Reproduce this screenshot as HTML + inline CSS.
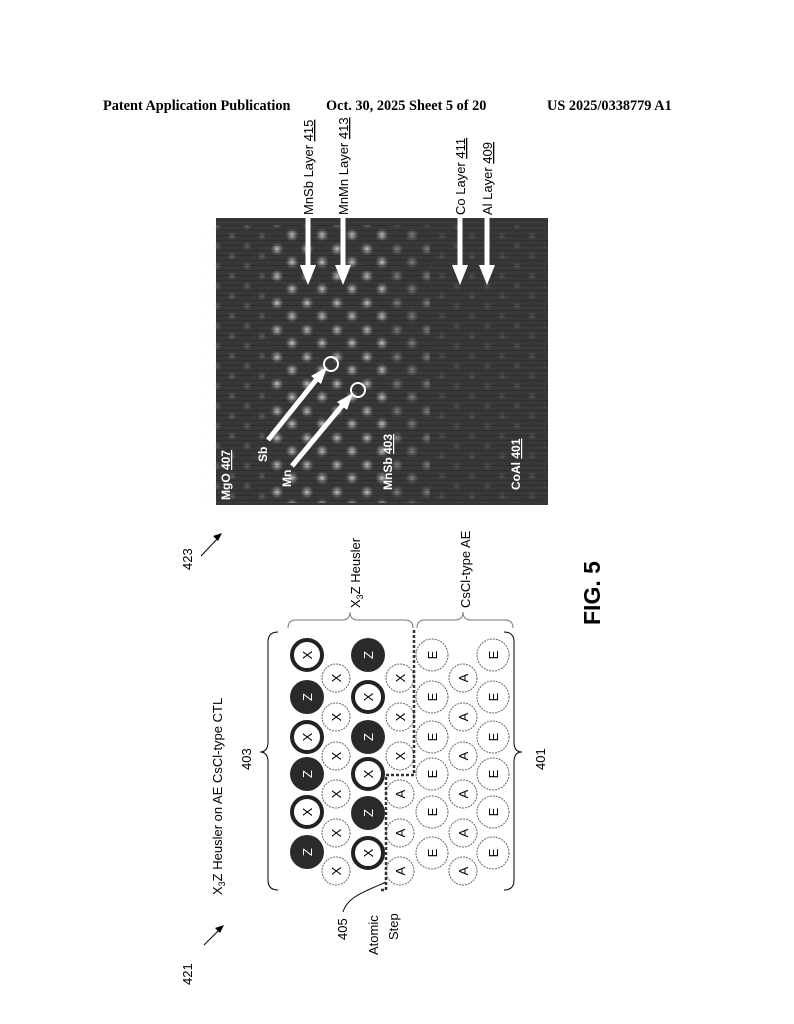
<!DOCTYPE html>
<html><head><meta charset="utf-8"><style>
html,body{margin:0;padding:0;background:#fff}
svg{display:block}
</style></head><body>
<svg width="794" height="1024" viewBox="0 0 794 1024" xmlns="http://www.w3.org/2000/svg" font-family="Liberation Sans, sans-serif">
<defs>
<radialGradient id="g"><stop offset="0" stop-color="#fff" stop-opacity="0.95"/><stop offset="0.45" stop-color="#ccc" stop-opacity="0.55"/><stop offset="1" stop-color="#777" stop-opacity="0"/></radialGradient>
<pattern id="p1" x="0" y="0" width="30" height="27" patternUnits="userSpaceOnUse">
<circle cx="7" cy="6" r="7" fill="url(#g)"/><circle cx="22" cy="19" r="7" fill="url(#g)"/>
</pattern>
<pattern id="p2" x="0" y="0" width="30" height="20" patternUnits="userSpaceOnUse">
<circle cx="7" cy="6" r="5" fill="url(#g)"/><circle cx="22" cy="16" r="5" fill="url(#g)"/>
</pattern>
<pattern id="st" x="0" y="0" width="4" height="5" patternUnits="userSpaceOnUse">
<rect x="0" y="0" width="4" height="1" fill="#000" opacity="0.18"/>
</pattern>
</defs>
<text x="103" y="110" font-family="Liberation Serif, serif" font-weight="bold" font-size="14.3">Patent Application Publication</text>
<text x="326" y="110" font-family="Liberation Serif, serif" font-weight="bold" font-size="14.3">Oct. 30, 2025  Sheet 5 of 20</text>
<text x="547" y="110" font-family="Liberation Serif, serif" font-weight="bold" font-size="14.3">US 2025/0338779 A1</text>

<!-- micrograph -->
<rect x="216" y="218" width="332" height="287" fill="#383838"/>
<rect x="205" y="225" width="60" height="278" fill="url(#p2)" opacity="0.25"/>
<rect x="268" y="225" width="122" height="278" fill="url(#p1)" opacity="0.75"/>
<rect x="390" y="225" width="40" height="278" fill="url(#p1)" opacity="0.4"/>
<rect x="430" y="225" width="115" height="278" fill="url(#p2)" opacity="0.15"/>
<rect x="216" y="218" width="332" height="287" fill="url(#st)"/>
<g fill="#fff" font-weight="bold" font-size="12">
<text transform="translate(230,500) rotate(-90)">MgO <tspan text-decoration="underline">407</tspan></text>
<text transform="translate(267,462) rotate(-90)">Sb</text>
<text transform="translate(291,487) rotate(-90)">Mn</text>
<text transform="translate(392,490) rotate(-90)">MnSb <tspan text-decoration="underline">403</tspan></text>
<text transform="translate(520,490) rotate(-90)">CoAl <tspan text-decoration="underline">401</tspan></text>
</g>
<g stroke="#fff" stroke-width="5"><line x1="268" y1="440" x2="320" y2="375"/><line x1="292" y1="466" x2="346" y2="401"/></g>
<polygon points="327,367 311,376 321,384" fill="#fff"/>
<polygon points="353,393 337,402 347,410" fill="#fff"/>
<circle cx="331" cy="364" r="7" fill="none" stroke="#fff" stroke-width="2"/>
<circle cx="358" cy="390" r="7" fill="none" stroke="#fff" stroke-width="2"/>
<g stroke="#fff" stroke-width="5">
<line x1="308" y1="218" x2="308" y2="268"/><line x1="343" y1="218" x2="343" y2="268"/>
<line x1="460" y1="218" x2="460" y2="268"/><line x1="487" y1="218" x2="487" y2="268"/></g>
<g fill="#fff"><polygon points="300,265 316,265 308,285"/><polygon points="335,265 351,265 343,285"/>
<polygon points="452,265 468,265 460,285"/><polygon points="479,265 495,265 487,285"/></g>
<g font-size="13" fill="#000">
<text transform="translate(313,215) rotate(-90)">MnSb Layer <tspan text-decoration="underline">415</tspan></text>
<text transform="translate(348,215) rotate(-90)">MnMn Layer <tspan text-decoration="underline">413</tspan></text>
<text transform="translate(465,215) rotate(-90)">Co Layer <tspan text-decoration="underline">411</tspan></text>
<text transform="translate(492,215) rotate(-90)">Al Layer <tspan text-decoration="underline">409</tspan></text>
</g>

<!-- reference numerals -->
<g font-size="13">
<text transform="translate(192,570) rotate(-90)">423</text>
<text transform="translate(192,985) rotate(-90)">421</text>
<text transform="translate(347,940) rotate(-90)">405</text>
<text transform="translate(378,955) rotate(-90)">Atomic</text>
<text transform="translate(398,940) rotate(-90)">Step</text>
<text transform="translate(251,770) rotate(-90)">403</text>
<text transform="translate(545,770) rotate(-90)">401</text>
<text transform="translate(222,895) rotate(-90)">X<tspan font-size="9" dy="3">3</tspan><tspan dy="-3">Z Heusler on AE CsCl-type CTL</tspan></text>
<text transform="translate(360,608) rotate(-90)">X<tspan font-size="9" dy="3">3</tspan><tspan dy="-3">Z Heusler</tspan></text>
<text transform="translate(470,608) rotate(-90)">CsCl-type AE</text>
</g>
<text transform="translate(600,625) rotate(-90)" font-size="23" font-weight="bold">FIG. 5</text>
<g stroke="#000" stroke-width="1" fill="none">
<line x1="201" y1="556" x2="220" y2="536"/><line x1="204" y1="945" x2="222" y2="927"/>
<path d="M343,912 C348,895 370,890 386,882"/>
<path d="M278,632 Q268,632 268,642 L268,742 Q268,752 260,752 Q268,752 268,762 L268,880 Q268,890 278,890"/>
<path d="M504,632 Q514,632 514,642 L514,742 Q514,752 522,752 Q514,752 514,762 L514,880 Q514,890 504,890"/>
<path d="M288,628 Q288,620 296,620 L342,620 Q350,620 350,612 Q350,620 358,620 L405,620 Q413,620 413,628" stroke="#777"/>
<path d="M417,628 Q417,620 425,620 L455,620 Q463,620 463,612 Q463,620 471,620 L505,620 Q513,620 513,628" stroke="#777"/>
</g>
<polygon points="222,533 213,536 218,541" fill="#000"/>
<polygon points="224,925 215,928 220,933" fill="#000"/>

<!-- atoms -->
<g font-size="13" text-anchor="middle" stroke-width="1">
<g fill="#fff" stroke="#666" stroke-dasharray="2,1">
<circle cx="432" cy="655" r="16"/><circle cx="432" cy="697" r="16"/><circle cx="432" cy="737" r="16"/><circle cx="432" cy="774" r="16"/><circle cx="432" cy="812" r="16"/><circle cx="432" cy="853" r="16"/>
<circle cx="493" cy="655" r="16"/><circle cx="493" cy="697" r="16"/><circle cx="493" cy="737" r="16"/><circle cx="493" cy="774" r="16"/><circle cx="493" cy="812" r="16"/><circle cx="493" cy="853" r="16"/>
<circle cx="463" cy="678" r="14"/><circle cx="463" cy="717" r="14"/><circle cx="463" cy="756" r="14"/><circle cx="463" cy="794" r="14"/><circle cx="463" cy="833" r="14"/><circle cx="463" cy="871" r="14"/>
<circle cx="336" cy="678" r="14"/><circle cx="336" cy="717" r="14"/><circle cx="336" cy="756" r="14"/><circle cx="336" cy="794" r="14"/><circle cx="336" cy="833" r="14"/><circle cx="336" cy="871" r="14"/>
<circle cx="400" cy="678" r="14"/><circle cx="400" cy="717" r="14"/><circle cx="400" cy="756" r="14"/><circle cx="400" cy="794" r="14"/><circle cx="400" cy="833" r="14"/><circle cx="400" cy="871" r="14"/>
</g>
<g fill="#fff" stroke="#222" stroke-width="4">
<circle cx="307" cy="655" r="15"/><circle cx="307" cy="737" r="15"/><circle cx="307" cy="812" r="15"/>
<circle cx="368" cy="697" r="15"/><circle cx="368" cy="774" r="15"/><circle cx="368" cy="853" r="15"/>
</g>
<g fill="#2a2a2a">
<circle cx="307" cy="697" r="17"/><circle cx="307" cy="774" r="17"/><circle cx="307" cy="852" r="17"/>
<circle cx="368" cy="655" r="17"/><circle cx="368" cy="737" r="17"/><circle cx="368" cy="813" r="17"/>
</g>
<g fill="#000">
<text transform="translate(312,655) rotate(-90)">X</text><text transform="translate(312,737) rotate(-90)">X</text><text transform="translate(312,812) rotate(-90)">X</text>
<text transform="translate(373,697) rotate(-90)">X</text><text transform="translate(373,774) rotate(-90)">X</text><text transform="translate(373,853) rotate(-90)">X</text>
<text transform="translate(341,678) rotate(-90)">X</text><text transform="translate(341,717) rotate(-90)">X</text><text transform="translate(341,756) rotate(-90)">X</text><text transform="translate(341,794) rotate(-90)">X</text><text transform="translate(341,833) rotate(-90)">X</text><text transform="translate(341,871) rotate(-90)">X</text>
<text transform="translate(405,678) rotate(-90)">X</text><text transform="translate(405,717) rotate(-90)">X</text><text transform="translate(405,756) rotate(-90)">X</text><text transform="translate(405,794) rotate(-90)">A</text><text transform="translate(405,833) rotate(-90)">A</text><text transform="translate(405,871) rotate(-90)">A</text>
<text transform="translate(468,678) rotate(-90)">A</text><text transform="translate(468,717) rotate(-90)">A</text><text transform="translate(468,756) rotate(-90)">A</text><text transform="translate(468,794) rotate(-90)">A</text><text transform="translate(468,833) rotate(-90)">A</text><text transform="translate(468,871) rotate(-90)">A</text>
<text transform="translate(437,655) rotate(-90)">E</text><text transform="translate(437,697) rotate(-90)">E</text><text transform="translate(437,737) rotate(-90)">E</text><text transform="translate(437,774) rotate(-90)">E</text><text transform="translate(437,812) rotate(-90)">E</text><text transform="translate(437,853) rotate(-90)">E</text>
<text transform="translate(498,655) rotate(-90)">E</text><text transform="translate(498,697) rotate(-90)">E</text><text transform="translate(498,737) rotate(-90)">E</text><text transform="translate(498,774) rotate(-90)">E</text><text transform="translate(498,812) rotate(-90)">E</text><text transform="translate(498,853) rotate(-90)">E</text>
</g>
<g fill="#fff">
<text transform="translate(312,697) rotate(-90)">Z</text><text transform="translate(312,774) rotate(-90)">Z</text><text transform="translate(312,852) rotate(-90)">Z</text>
<text transform="translate(373,655) rotate(-90)">Z</text><text transform="translate(373,737) rotate(-90)">Z</text><text transform="translate(373,813) rotate(-90)">Z</text>
</g>
</g>
<path d="M414,630 L414,775 L386,775 L386,890 L380,890" fill="none" stroke="#333" stroke-width="2.5" stroke-dasharray="3,2"/>
</svg>
</body></html>
